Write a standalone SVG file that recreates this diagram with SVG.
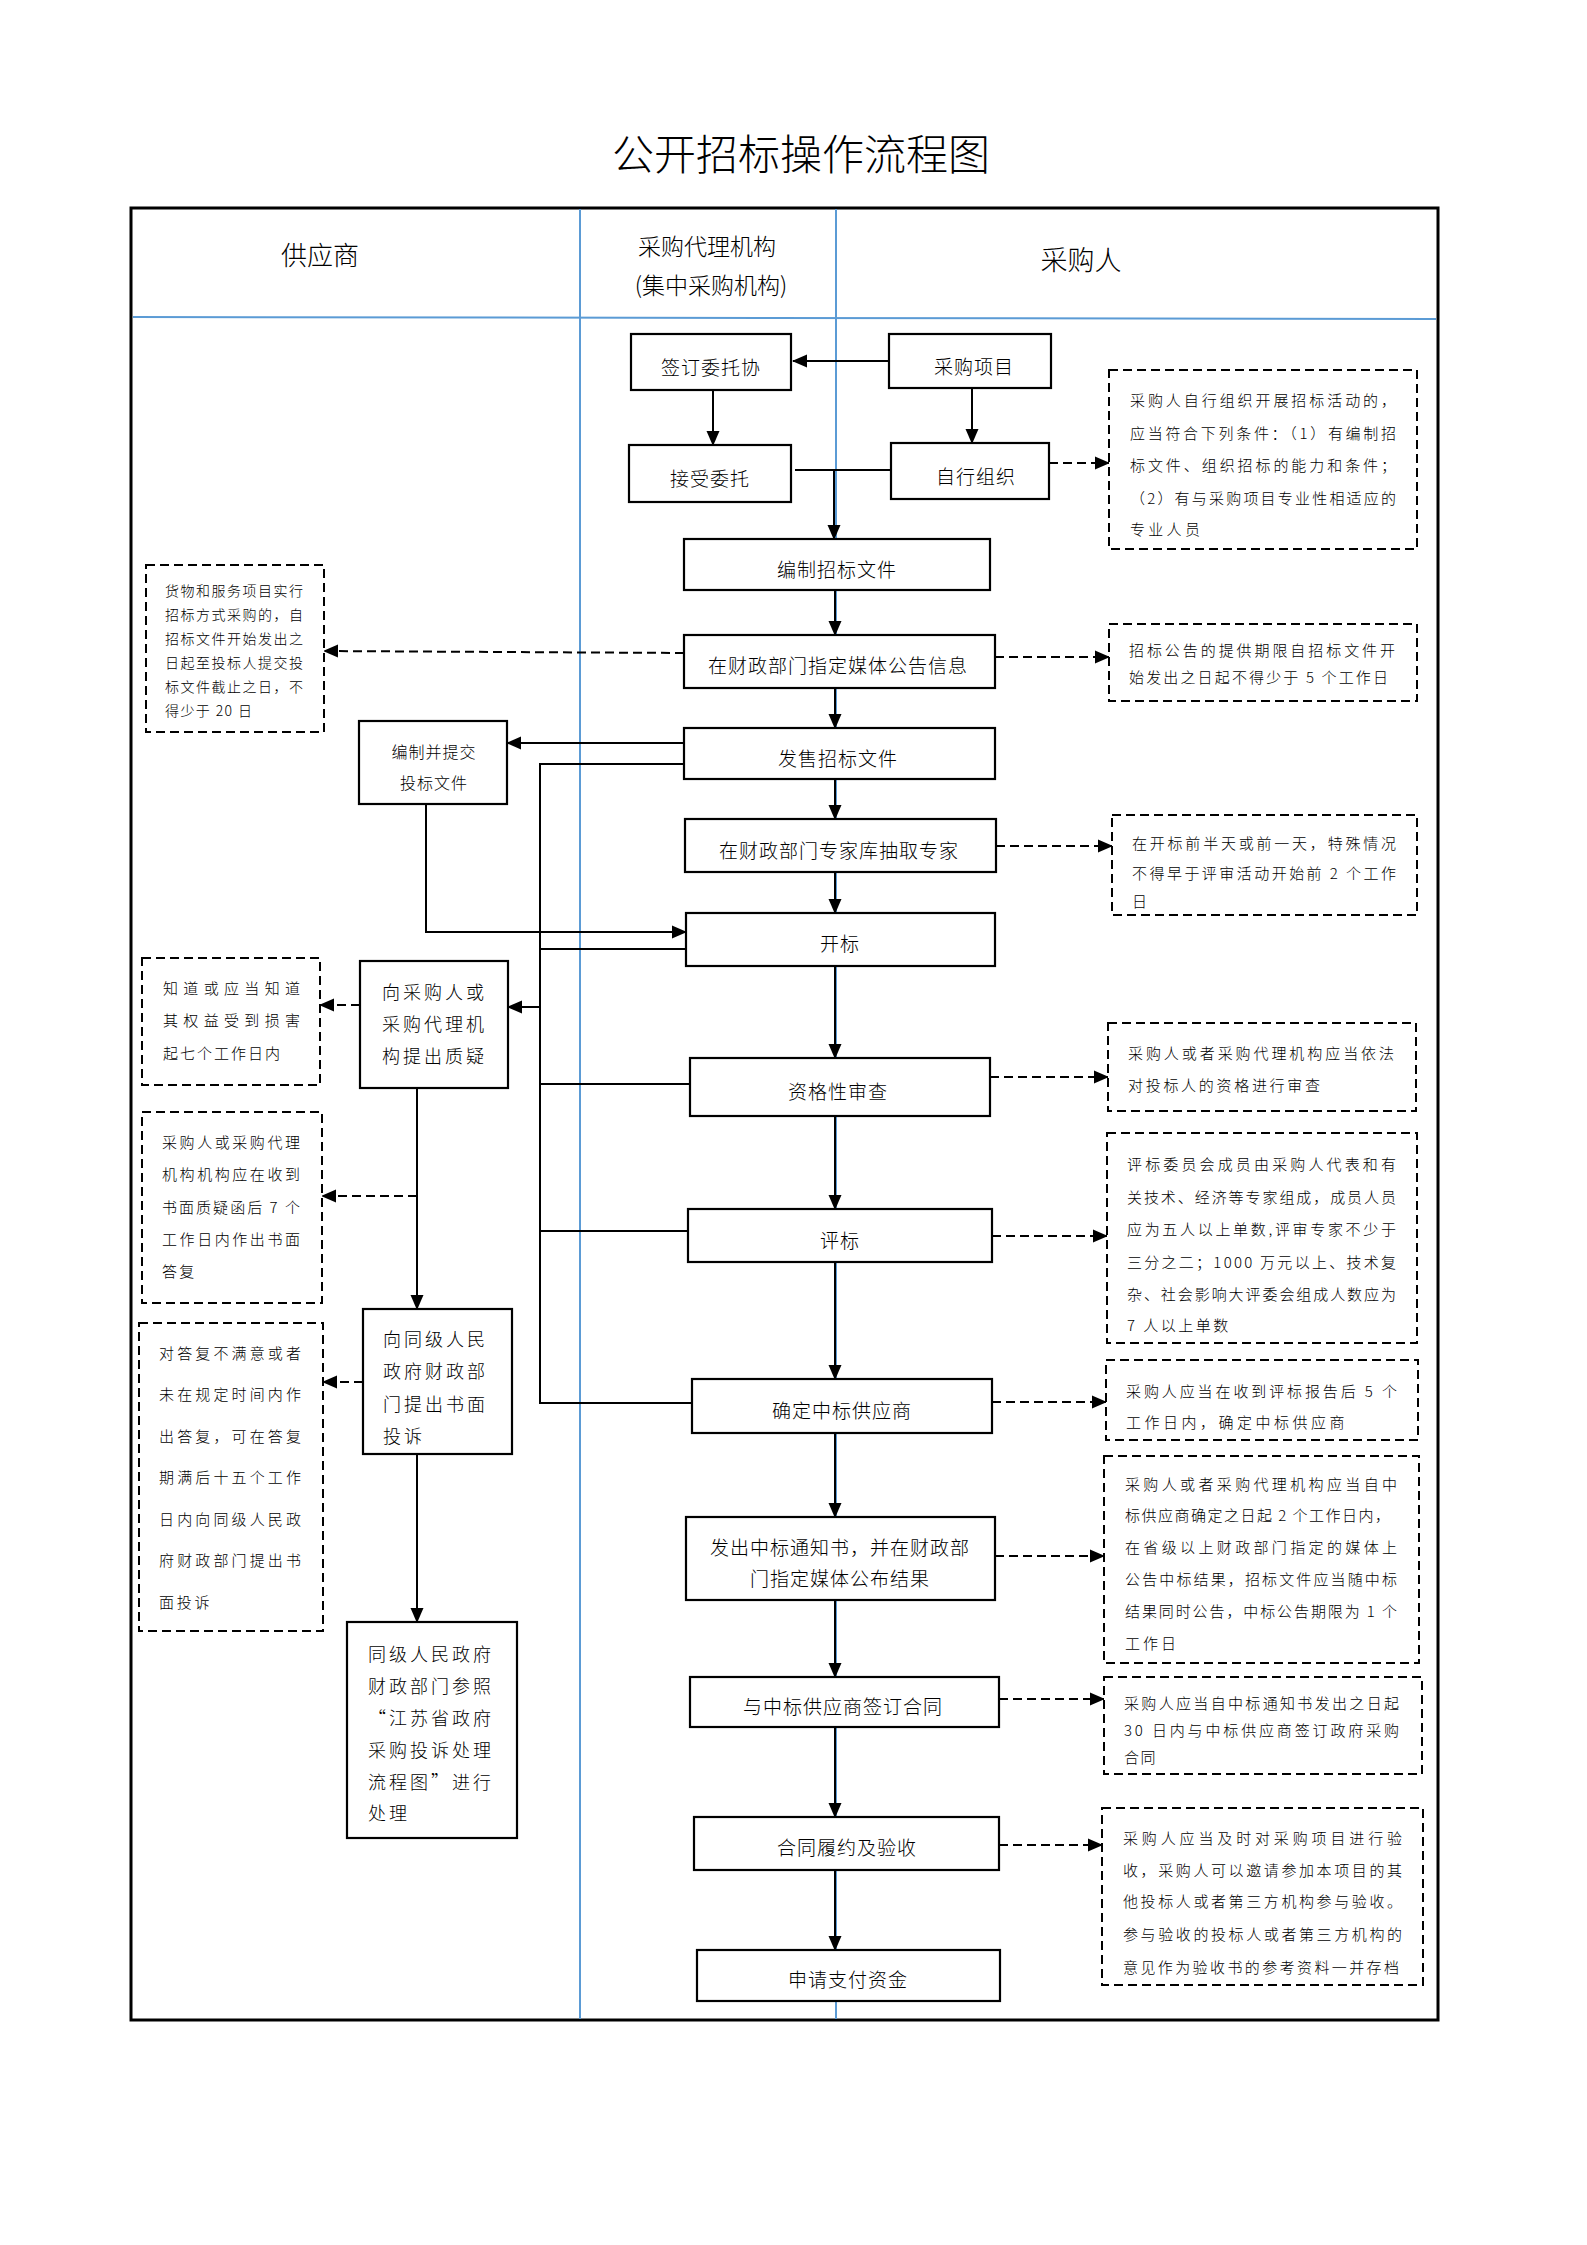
<svg xmlns="http://www.w3.org/2000/svg" width="1587" height="2245" viewBox="0 0 1587 2245">
<defs>
<marker id="ah" markerWidth="15" markerHeight="14" refX="14" refY="7" orient="auto" markerUnits="userSpaceOnUse"><path d="M0,0.5 L15,7 L0,13.5 z" fill="#000"/></marker>
<style>
.bx{fill:#fff;stroke:#000;stroke-width:2.2}
.db{fill:#fff;stroke:#000;stroke-width:2;stroke-dasharray:9 5}
.ln{fill:none;stroke:#000;stroke-width:2}
.dl{fill:none;stroke:#000;stroke-width:2;stroke-dasharray:9 5}
.bl{fill:none;stroke:#5b9bd5;stroke-width:2}
text{font-family:"Noto Sans CJK SC","Noto Sans",sans-serif;fill:#000;dominant-baseline:central;font-weight:300}
.t{font-size:19px;letter-spacing:1px;text-anchor:middle}
.s{font-size:18px;letter-spacing:3px}
.n{font-size:15px}
.m{font-size:14px}
.h{text-anchor:middle}
</style>
</defs>
<rect x="0" y="0" width="1587" height="2245" fill="#fff"/>

<text class="h" x="801" y="151" font-size="42" font-weight="400">公开招标操作流程图</text>

<g id="frame">
<rect x="131" y="208" width="1307" height="1812" fill="none" stroke="#000" stroke-width="3"/>
<line class="bl" x1="133" y1="317" x2="1436" y2="319" stroke-width="3"/>
<line class="bl" x1="580" y1="209" x2="580" y2="2019"/>
<line class="bl" x1="836" y1="209" x2="836" y2="2019"/>
<text class="h" x="320" y="253" font-size="26">供应商</text>
<text class="h" x="707" y="245" font-size="23">采购代理机构</text>
<text class="h" x="711" y="284" font-size="23">(集中采购机构)</text>
<text class="h" x="1081" y="258" font-size="27">采购人</text>
</g>

<g id="connectors">
<line class="ln" x1="889" y1="361" x2="793" y2="361" marker-end="url(#ah)"/>
<line class="ln" x1="713" y1="390" x2="713" y2="445" marker-end="url(#ah)"/>
<line class="ln" x1="972" y1="388" x2="972" y2="443" marker-end="url(#ah)"/>
<line class="ln" x1="795" y1="470" x2="891" y2="470"/>
<line class="ln" x1="834" y1="470" x2="834" y2="539" marker-end="url(#ah)"/>
<line class="ln" x1="835" y1="590" x2="835" y2="635" marker-end="url(#ah)"/>
<line class="ln" x1="835" y1="688" x2="835" y2="728" marker-end="url(#ah)"/>
<line class="ln" x1="835" y1="779" x2="835" y2="819" marker-end="url(#ah)"/>
<line class="ln" x1="835" y1="872" x2="835" y2="913" marker-end="url(#ah)"/>
<line class="ln" x1="835" y1="966" x2="835" y2="1058" marker-end="url(#ah)"/>
<line class="ln" x1="835" y1="1116" x2="835" y2="1209" marker-end="url(#ah)"/>
<line class="ln" x1="835" y1="1262" x2="835" y2="1379" marker-end="url(#ah)"/>
<line class="ln" x1="835" y1="1433" x2="835" y2="1517" marker-end="url(#ah)"/>
<line class="ln" x1="835" y1="1600" x2="835" y2="1677" marker-end="url(#ah)"/>
<line class="ln" x1="835" y1="1727" x2="835" y2="1817" marker-end="url(#ah)"/>
<line class="ln" x1="835" y1="1870" x2="835" y2="1950" marker-end="url(#ah)"/>
<line class="dl" x1="1049" y1="463" x2="1109" y2="463" marker-end="url(#ah)"/>
<line class="dl" x1="995" y1="657" x2="1109" y2="657" marker-end="url(#ah)"/>
<line class="dl" x1="684" y1="653" x2="324" y2="651" marker-end="url(#ah)"/>
<line class="ln" x1="684" y1="743" x2="507" y2="743" marker-end="url(#ah)"/>
<polyline class="ln" points="426,804 426,932 686,932" marker-end="url(#ah)"/>
<polyline class="ln" points="684,764 540,764 540,1403 692,1403"/>
<line class="ln" x1="540" y1="949" x2="686" y2="949"/>
<line class="ln" x1="540" y1="1084" x2="690" y2="1084"/>
<line class="ln" x1="540" y1="1231" x2="688" y2="1231"/>
<line class="ln" x1="540" y1="1007" x2="508" y2="1007" marker-end="url(#ah)"/>
<line class="dl" x1="996" y1="846" x2="1112" y2="846" marker-end="url(#ah)"/>
<line class="dl" x1="360" y1="1005" x2="320" y2="1005" marker-end="url(#ah)"/>
<line class="ln" x1="417" y1="1088" x2="417" y2="1309" marker-end="url(#ah)"/>
<line class="dl" x1="417" y1="1196" x2="322" y2="1196" marker-end="url(#ah)"/>
<line class="dl" x1="363" y1="1382" x2="323" y2="1382" marker-end="url(#ah)"/>
<line class="ln" x1="417" y1="1454" x2="417" y2="1622" marker-end="url(#ah)"/>
<line class="dl" x1="990" y1="1077" x2="1108" y2="1077" marker-end="url(#ah)"/>
<line class="dl" x1="992" y1="1236" x2="1107" y2="1236" marker-end="url(#ah)"/>
<line class="dl" x1="992" y1="1402" x2="1106" y2="1402" marker-end="url(#ah)"/>
<line class="dl" x1="995" y1="1556" x2="1104" y2="1556" marker-end="url(#ah)"/>
<line class="dl" x1="999" y1="1699" x2="1104" y2="1699" marker-end="url(#ah)"/>
<line class="dl" x1="999" y1="1845" x2="1102" y2="1845" marker-end="url(#ah)"/>
</g>

<g id="n-qianding"><rect class="bx" x="631" y="334" width="160" height="56"/><text class="t" x="711" y="366">签订委托协</text></g>
<g id="n-caigouxiangmu"><rect class="bx" x="889" y="334" width="162" height="54"/><text class="t" x="974" y="365">采购项目</text></g>
<g id="n-jieshou"><rect class="bx" x="629" y="445" width="162" height="57"/><text class="t" x="710" y="477">接受委托</text></g>
<g id="n-zixing"><rect class="bx" x="891" y="443" width="158" height="56"/><text class="t" x="976" y="475">自行组织</text></g>
<g id="n-bianzhi"><rect class="bx" x="684" y="539" width="306" height="51"/><text class="t" x="837" y="568">编制招标文件</text></g>
<g id="n-gonggao"><rect class="bx" x="684" y="635" width="311" height="53"/><text class="t" x="838" y="664">在财政部门指定媒体公告信息</text></g>
<g id="n-fashou"><rect class="bx" x="684" y="728" width="311" height="51"/><text class="t" x="838" y="757">发售招标文件</text></g>
<g id="n-zhuanjia"><rect class="bx" x="685" y="819" width="311" height="53"/><text class="t" x="839" y="849">在财政部门专家库抽取专家</text></g>
<g id="n-kaibiao"><rect class="bx" x="686" y="913" width="309" height="53"/><text class="t" x="840" y="942">开标</text></g>
<g id="n-zige"><rect class="bx" x="690" y="1058" width="300" height="58"/><text class="t" x="838" y="1090">资格性审查</text></g>
<g id="n-pingbiao"><rect class="bx" x="688" y="1209" width="304" height="53"/><text class="t" x="840" y="1239">评标</text></g>
<g id="n-queding"><rect class="bx" x="692" y="1379" width="300" height="54"/><text class="t" x="842" y="1409">确定中标供应商</text></g>
<g id="n-fachu"><rect class="bx" x="686" y="1517" width="309" height="83"/><text class="t" x="840" y="1546">发出中标通知书，并在财政部</text><text class="t" x="840" y="1577">门指定媒体公布结果</text></g>
<g id="n-hetong"><rect class="bx" x="690" y="1677" width="309" height="50"/><text class="t" x="843" y="1705">与中标供应商签订合同</text></g>
<g id="n-lvyue"><rect class="bx" x="694" y="1817" width="305" height="53"/><text class="t" x="847" y="1846">合同履约及验收</text></g>
<g id="n-zhifu"><rect class="bx" x="697" y="1950" width="303" height="51"/><text class="t" x="848" y="1978">申请支付资金</text></g>

<g id="n-toubiao"><rect class="bx" x="359" y="721" width="148" height="83"/><text class="h" x="434" y="751" font-size="16" letter-spacing="1">编制并提交</text><text class="h" x="434" y="782" font-size="16" letter-spacing="1">投标文件</text></g>
<g id="n-zhiyi"><rect class="bx" x="360" y="961" width="148" height="127"/>
<text class="s" x="382" y="991">向采购人或</text><text class="s" x="382" y="1023">采购代理机</text><text class="s" x="382" y="1055">构提出质疑</text></g>
<g id="n-tousu"><rect class="bx" x="363" y="1309" width="149" height="145"/>
<text class="s" x="383" y="1338">向同级人民</text><text class="s" x="383" y="1370">政府财政部</text><text class="s" x="383" y="1403">门提出书面</text><text class="s" x="383" y="1435">投诉</text></g>
<g id="n-chuli"><rect class="bx" x="347" y="1622" width="170" height="216"/>
<text class="s" x="368" y="1653">同级人民政府</text><text class="s" x="368" y="1685">财政部门参照</text><text class="s" x="368" y="1717">“江苏省政府</text><text class="s" x="368" y="1749">采购投诉处理</text><text class="s" x="368" y="1781">流程图”进行</text><text class="s" x="368" y="1812">处理</text></g>

<g id="d-huowu"><rect class="db" x="146" y="565" width="178" height="167"/>
<text class="m" x="165" y="590" textLength="138" lengthAdjust="spacing">货物和服务项目实行</text>
<text class="m" x="165" y="614" textLength="138" lengthAdjust="spacing">招标方式采购的，自</text>
<text class="m" x="165" y="638" textLength="138" lengthAdjust="spacing">招标文件开始发出之</text>
<text class="m" x="165" y="662" textLength="138" lengthAdjust="spacing">日起至投标人提交投</text>
<text class="m" x="165" y="686" textLength="138" lengthAdjust="spacing">标文件截止之日，不</text>
<text class="m" x="165" y="710" letter-spacing="1.4">得少于 20 日</text></g>

<g id="d-zhidao"><rect class="db" x="142" y="958" width="178" height="127"/>
<text class="n" x="163" y="987" textLength="137" lengthAdjust="spacing">知道或应当知道</text>
<text class="n" x="163" y="1019" textLength="137" lengthAdjust="spacing">其权益受到损害</text>
<text class="n" x="163" y="1052" letter-spacing="2">起七个工作日内</text></g>

<g id="d-dafu"><rect class="db" x="142" y="1112" width="180" height="191"/>
<text class="n" x="162" y="1141" textLength="138" lengthAdjust="spacing">采购人或采购代理</text>
<text class="n" x="162" y="1173" textLength="138" lengthAdjust="spacing">机构机构应在收到</text>
<text class="n" x="162" y="1206" textLength="138" lengthAdjust="spacing">书面质疑函后 7 个</text>
<text class="n" x="162" y="1238" textLength="138" lengthAdjust="spacing">工作日内作出书面</text>
<text class="n" x="162" y="1270" letter-spacing="2.3">答复</text></g>

<g id="d-buman"><rect class="db" x="139" y="1323" width="184" height="308"/>
<text class="n" x="159" y="1352" textLength="142" lengthAdjust="spacing">对答复不满意或者</text>
<text class="n" x="159" y="1393" textLength="142" lengthAdjust="spacing">未在规定时间内作</text>
<text class="n" x="159" y="1435" textLength="142" lengthAdjust="spacing">出答复，可在答复</text>
<text class="n" x="159" y="1476" textLength="142" lengthAdjust="spacing">期满后十五个工作</text>
<text class="n" x="159" y="1518" textLength="142" lengthAdjust="spacing">日内向同级人民政</text>
<text class="n" x="159" y="1559" textLength="142" lengthAdjust="spacing">府财政部门提出书</text>
<text class="n" x="159" y="1601" letter-spacing="2.8">面投诉</text></g>

<g id="d-zixing"><rect class="db" x="1109" y="370" width="308" height="179"/>
<text class="n" x="1130" y="399" textLength="266" lengthAdjust="spacing">采购人自行组织开展招标活动的，</text>
<text class="n" x="1130" y="432" textLength="266" lengthAdjust="spacing">应当符合下列条件：（1）有编制招</text>
<text class="n" x="1130" y="464" textLength="266" lengthAdjust="spacing">标文件、组织招标的能力和条件；</text>
<text class="n" x="1130" y="497" textLength="266" lengthAdjust="spacing">（2）有与采购项目专业性相适应的</text>
<text class="n" x="1130" y="528" letter-spacing="3.3">专业人员</text></g>

<g id="d-gonggao"><rect class="db" x="1109" y="624" width="308" height="77"/>
<text class="n" x="1129" y="649" textLength="266" lengthAdjust="spacing">招标公告的提供期限自招标文件开</text>
<text class="n" x="1129" y="676" textLength="259" lengthAdjust="spacing">始发出之日起不得少于 5 个工作日</text></g>

<g id="d-zhuanjia"><rect class="db" x="1112" y="815" width="305" height="100"/>
<text class="n" x="1132" y="842" textLength="264" lengthAdjust="spacing">在开标前半天或前一天，特殊情况</text>
<text class="n" x="1132" y="872" textLength="264" lengthAdjust="spacing">不得早于评审活动开始前 2 个工作</text>
<text class="n" x="1132" y="900">日</text></g>

<g id="d-zige"><rect class="db" x="1108" y="1023" width="308" height="88"/>
<text class="n" x="1128" y="1052" textLength="266" lengthAdjust="spacing">采购人或者采购代理机构应当依法</text>
<text class="n" x="1128" y="1084" letter-spacing="2.7">对投标人的资格进行审查</text></g>

<g id="d-pingbiao"><rect class="db" x="1107" y="1133" width="310" height="210"/>
<text class="n" x="1127" y="1163" textLength="269" lengthAdjust="spacing">评标委员会成员由采购人代表和有</text>
<text class="n" x="1127" y="1196" textLength="269" lengthAdjust="spacing">关技术、经济等专家组成，成员人员</text>
<text class="n" x="1127" y="1228" textLength="269" lengthAdjust="spacing">应为五人以上单数,评审专家不少于</text>
<text class="n" x="1127" y="1261" textLength="269" lengthAdjust="spacing">三分之二；1000 万元以上、技术复</text>
<text class="n" x="1127" y="1293" textLength="269" lengthAdjust="spacing">杂、社会影响大评委会组成人数应为</text>
<text class="n" x="1127" y="1324" letter-spacing="2.5">7 人以上单数</text></g>

<g id="d-queding"><rect class="db" x="1106" y="1360" width="312" height="80"/>
<text class="n" x="1126" y="1390" textLength="271" lengthAdjust="spacing">采购人应当在收到评标报告后 5 个</text>
<text class="n" x="1126" y="1421" letter-spacing="3.5">工作日内，确定中标供应商</text></g>

<g id="d-gongbu"><rect class="db" x="1104" y="1456" width="315" height="207"/>
<text class="n" x="1125" y="1483" textLength="272" lengthAdjust="spacing">采购人或者采购代理机构应当自中</text>
<text class="n" x="1125" y="1514" textLength="265" lengthAdjust="spacing">标供应商确定之日起 2 个工作日内，</text>
<text class="n" x="1125" y="1546" textLength="272" lengthAdjust="spacing">在省级以上财政部门指定的媒体上</text>
<text class="n" x="1125" y="1578" textLength="272" lengthAdjust="spacing">公告中标结果，招标文件应当随中标</text>
<text class="n" x="1125" y="1610" textLength="272" lengthAdjust="spacing">结果同时公告，中标公告期限为 1 个</text>
<text class="n" x="1125" y="1642" letter-spacing="3">工作日</text></g>

<g id="d-hetong"><rect class="db" x="1104" y="1677" width="318" height="97"/>
<text class="n" x="1124" y="1702" textLength="275" lengthAdjust="spacing">采购人应当自中标通知书发出之日起</text>
<text class="n" x="1124" y="1729" textLength="275" lengthAdjust="spacing">30 日内与中标供应商签订政府采购</text>
<text class="n" x="1124" y="1756" letter-spacing="1.5">合同</text></g>

<g id="d-yanshou"><rect class="db" x="1102" y="1808" width="321" height="177"/>
<text class="n" x="1123" y="1837" textLength="279" lengthAdjust="spacing">采购人应当及时对采购项目进行验</text>
<text class="n" x="1123" y="1869" textLength="279" lengthAdjust="spacing">收，采购人可以邀请参加本项目的其</text>
<text class="n" x="1123" y="1900" textLength="279" lengthAdjust="spacing">他投标人或者第三方机构参与验收。</text>
<text class="n" x="1123" y="1933" textLength="279" lengthAdjust="spacing">参与验收的投标人或者第三方机构的</text>
<text class="n" x="1123" y="1966" textLength="276" lengthAdjust="spacing">意见作为验收书的参考资料一并存档</text></g>
</svg>
